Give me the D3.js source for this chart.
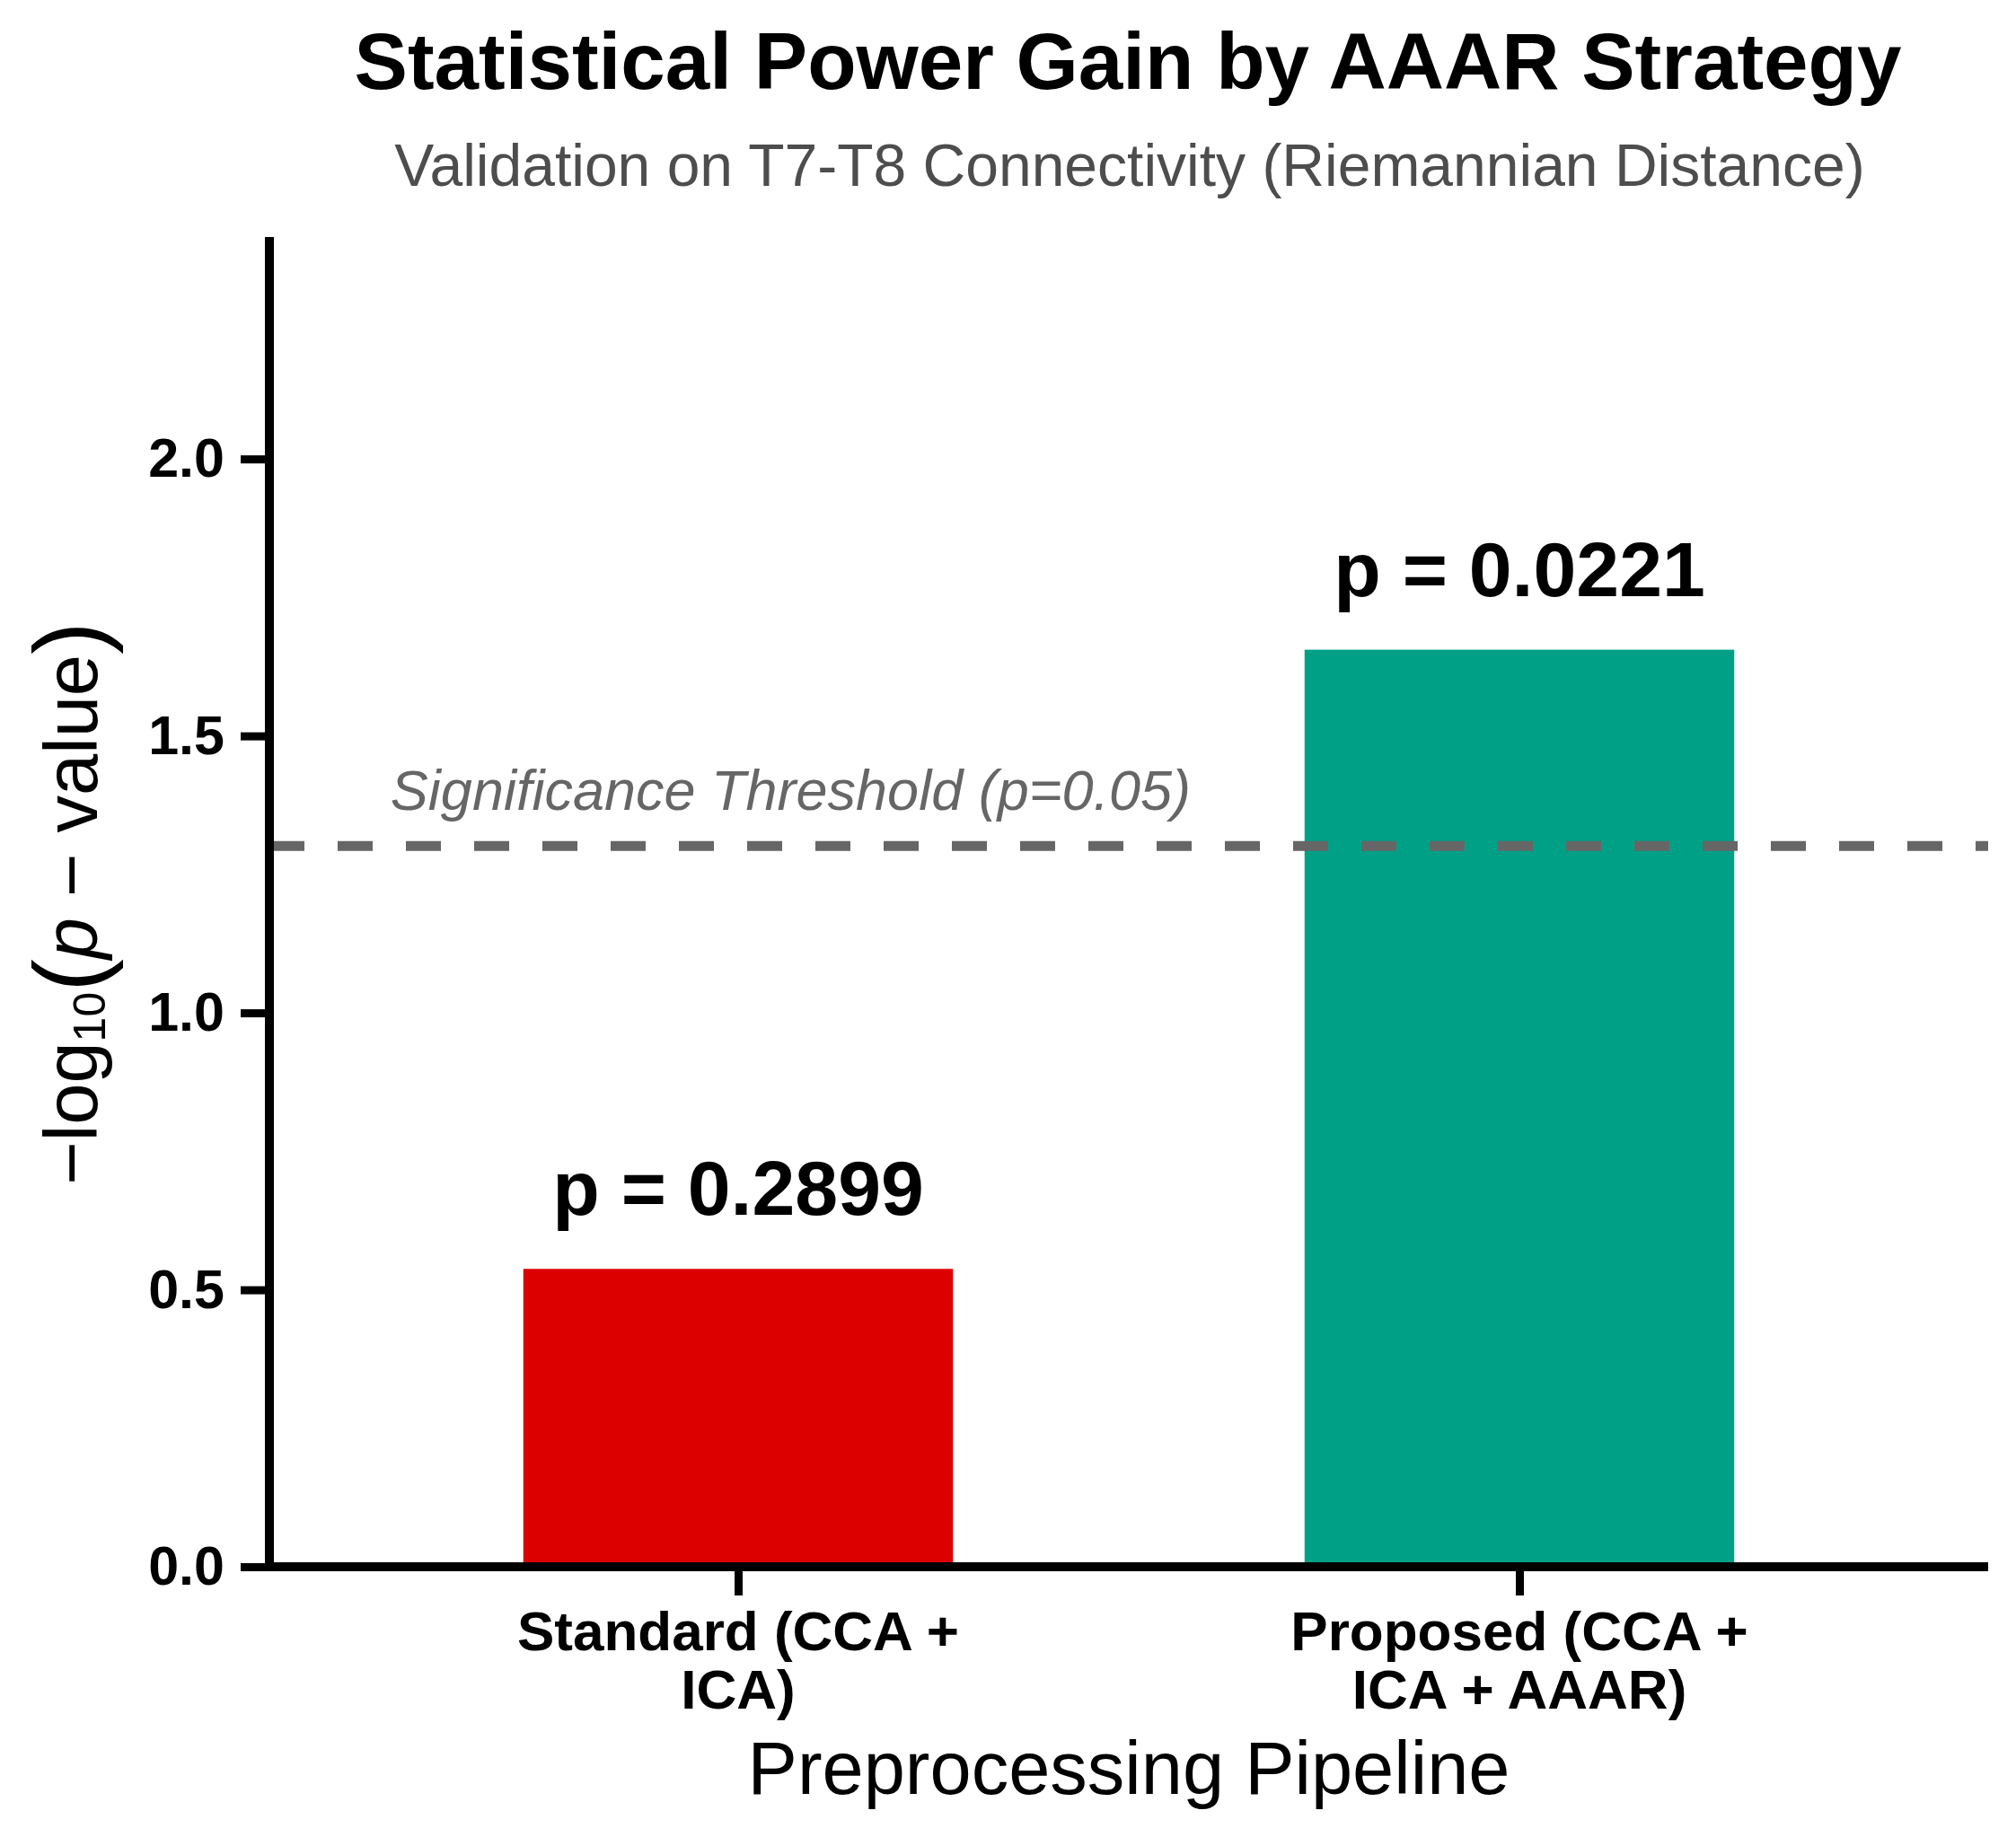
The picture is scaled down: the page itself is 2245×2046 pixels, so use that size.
<!DOCTYPE html>
<html>
<head>
<meta charset="utf-8">
<script src="https://cdn.jsdelivr.net/npm/d3@7"></script>
<style>
  body { margin: 0; background: #fff; }
  svg { display: block; font-family: "Liberation Sans", Arial, sans-serif; }
</style>
</head>
<body>
<div id="chart"></div>
<script>
// data
const pipelines = ["Standard (CCA + ICA)", "Proposed (CCA + ICA + AAAR)"];
const tickLines = [["Standard (CCA +", "ICA)"], ["Proposed (CCA +", "ICA + AAAR)"]];
const pValues = [0.2899, 0.0221];
const barColors = ["#DC0000", "#00A087"];
const alpha = 0.05;
const yTicks = [0.0, 0.5, 1.0, 1.5, 2.0];

const width = 2245, height = 2046;
const margin = { top: 264, right: 31, bottom: 301, left: 300 };

const scores = pValues.map(p => -Math.log10(p));
const threshold = -Math.log10(alpha);

const svg = d3.select("#chart")
    .append("svg")
    .attr("width", width)
    .attr("height", height);

const x = d3.scaleLinear()
    .domain([-0.6, pipelines.length - 0.4])
    .range([margin.left, width - margin.right]);

const y = d3.scaleLinear()
    .domain([0, d3.max(scores) * 1.45])
    .range([height - margin.bottom, margin.top]);

const barWidth = 0.55;

// bars
svg.selectAll("rect.bar")
    .data(scores)
    .enter()
    .append("rect")
    .attr("class", "bar")
    .attr("x", (d, i) => x(i - barWidth / 2))
    .attr("width", x(barWidth) - x(0))
    .attr("y", d => y(d))
    .attr("height", d => y(0) - y(d))
    .attr("fill", (d, i) => barColors[i]);

// threshold line
svg.append("line")
    .attr("x1", x.range()[0])
    .attr("x2", x.range()[1])
    .attr("y1", y(threshold))
    .attr("y2", y(threshold))
    .attr("stroke", "#666666")
    .attr("stroke-width", 11)
    .attr("stroke-dasharray", "39 37");

svg.append("text")
    .attr("x", x(-0.445))
    .attr("y", y(threshold) - 40)
    .attr("font-size", 63)
    .attr("font-style", "italic")
    .attr("fill", "#666666")
    .text(`Significance Threshold (p=${alpha})`);

// p-value labels
svg.selectAll("text.plabel")
    .data(pValues)
    .enter()
    .append("text")
    .attr("class", "plabel")
    .attr("x", (d, i) => x(i))
    .attr("y", (d, i) => y(scores[i]) - 60)
    .attr("text-anchor", "middle")
    .attr("font-size", 86)
    .attr("font-weight", "bold")
    .text(d => `p = ${d.toFixed(4)}`);

// y axis
const yAxis = svg.append("g")
    .attr("transform", `translate(${margin.left},0)`)
    .call(d3.axisLeft(y).tickValues(yTicks).tickFormat(d3.format(".1f")).tickSize(32).tickPadding(18));
yAxis.select(".domain").remove();
yAxis.selectAll(".tick line").attr("stroke", "#000").attr("stroke-width", 9);
yAxis.selectAll(".tick text")
    .attr("font-family", "Liberation Sans, Arial, sans-serif")
    .attr("font-size", 61)
    .attr("font-weight", "bold")
    .attr("fill", "#000");

// x axis
const xAxis = svg.append("g")
    .attr("transform", `translate(0,${y(0)})`)
    .call(d3.axisBottom(x).tickValues(d3.range(pipelines.length)).tickFormat("").tickSize(32));
xAxis.select(".domain").remove();
xAxis.selectAll(".tick line").attr("stroke", "#000").attr("stroke-width", 9);

svg.selectAll("text.xtick")
    .data(tickLines)
    .enter()
    .append("text")
    .attr("class", "xtick")
    .attr("x", (d, i) => x(i))
    .attr("y", y(0) + 93)
    .attr("text-anchor", "middle")
    .attr("font-size", 62)
    .attr("font-weight", "bold")
    .selectAll("tspan")
    .data(d => d)
    .enter()
    .append("tspan")
    .attr("x", function() { return this.parentNode.getAttribute("x"); })
    .attr("dy", (d, j) => j === 0 ? 0 : 65)
    .text(d => d);

// spines
svg.append("line")
    .attr("x1", margin.left).attr("x2", margin.left)
    .attr("y1", y.range()[1]).attr("y2", y(0) + 5)
    .attr("stroke", "#000").attr("stroke-width", 10);
svg.append("line")
    .attr("x1", margin.left - 5).attr("x2", x.range()[1])
    .attr("y1", y(0)).attr("y2", y(0))
    .attr("stroke", "#000").attr("stroke-width", 10);

// axis labels
svg.append("text")
    .attr("x", (x.range()[0] + x.range()[1]) / 2)
    .attr("y", 1998)
    .attr("text-anchor", "middle")
    .attr("font-size", 83)
    .text("Preprocessing Pipeline");

const ylab = svg.append("text")
    .attr("transform", `translate(108,1006) rotate(-90)`)
    .attr("text-anchor", "middle")
    .attr("font-size", 83);
ylab.append("tspan").text("\u2212log");
ylab.append("tspan").attr("font-size", 50).attr("dy", 9).text("10");
ylab.append("tspan").attr("font-size", 110).attr("dy", -3).text("(");
ylab.append("tspan").attr("font-style", "italic").attr("dy", -6).text("p");
ylab.append("tspan").text(" \u2212 value");
ylab.append("tspan").attr("font-size", 110).attr("dy", 6).text(")");

// titles
svg.append("text")
    .attr("x", 1256)
    .attr("y", 99)
    .attr("text-anchor", "middle")
    .attr("font-size", 89)
    .attr("font-weight", "bold")
    .text("Statistical Power Gain by AAAR Strategy");

svg.append("text")
    .attr("x", 1258)
    .attr("y", 207)
    .attr("text-anchor", "middle")
    .attr("font-size", 66)
    .attr("fill", "#4D4D4D")
    .text("Validation on T7-T8 Connectivity (Riemannian Distance)");
</script>
</body>
</html>
